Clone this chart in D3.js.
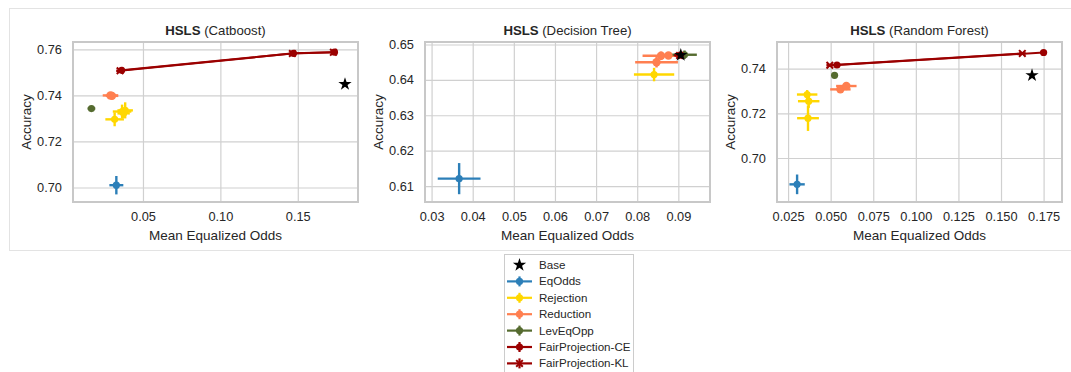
<!DOCTYPE html>
<html>
<head>
<meta charset="utf-8">
<script src="https://cdn.jsdelivr.net/npm/d3@7"></script>
<style>
  body { margin: 0; background: #fff; }
  svg { font-family: "Liberation Sans", Arial, Helvetica, sans-serif; }
</style>
</head>
<body>
<svg width="1071" height="372"></svg>
<script>
// методы и цвета
const methods = ["Base", "EqOdds", "Rejection", "Reduction", "LevEqOpp", "FairProjection-CE", "FairProjection-KL"];
const methodColors = ["#000000", "#2c7fb8", "#ffd700", "#ff7f50", "#556b2f", "#9b0000", "#9b0000"];

// точки: [метод, MEO, accuracy, ошибка по x, ошибка по y]
const catboostPts = [
    ["EqOdds", 0.0328, 0.7010, 0.0045, 0.0040],
    ["Rejection", 0.0317, 0.7296, 0.0060, 0.0030],
    ["Rejection", 0.0365, 0.7330, 0.0060, 0.0030],
    ["Rejection", 0.0385, 0.7335, 0.0050, 0.0035],
    ["Rejection", 0.0375, 0.7322, 0.0040, 0.0020],
    ["Reduction", 0.0290, 0.7400, 0.0050, 0.0010],
    ["Reduction", 0.0300, 0.7398, 0.0040, 0.0008],
    ["LevEqOpp", 0.0167, 0.7343, 0.0025, 0.0008],
    ["FairProjection-CE", 0.0362, 0.7509, 0.0020, 0.0006],
    ["FairProjection-CE", 0.1472, 0.7583, 0.0020, 0.0006],
    ["FairProjection-CE", 0.1737, 0.7588, 0.0020, 0.0006],
    ["FairProjection-KL", 0.0352, 0.7507, 0.0025, 0.0006],
    ["FairProjection-KL", 0.1465, 0.7582, 0.0020, 0.0006],
    ["FairProjection-KL", 0.1730, 0.7587, 0.0020, 0.0006],
    ["Base", 0.1805, 0.7449, 0, 0]
];
const treePts = [
    ["EqOdds", 0.0367, 0.6121, 0.0052, 0.0044],
    ["Rejection", 0.0841, 0.6415, 0.0049, 0.0019],
    ["Reduction", 0.0847, 0.6450, 0.0052, 0.0015],
    ["Reduction", 0.0858, 0.6468, 0.0045, 0.0012],
    ["Reduction", 0.0876, 0.6469, 0.0020, 0.0008],
    ["LevEqOpp", 0.0915, 0.6471, 0.0030, 0.0012],
    ["FairProjection-CE", 0.0905, 0.6470, 0.0015, 0.0008],
    ["FairProjection-KL", 0.0903, 0.6469, 0.0012, 0.0006],
    ["Base", 0.0906, 0.6470, 0, 0]
];
const forestPts = [
    ["EqOdds", 0.0303, 0.6882, 0.0045, 0.0044],
    ["Rejection", 0.0362, 0.7284, 0.0060, 0.0020],
    ["Rejection", 0.0371, 0.7254, 0.0063, 0.0030],
    ["Rejection", 0.0367, 0.7178, 0.0064, 0.0057],
    ["Reduction", 0.0557, 0.7307, 0.0060, 0.0012],
    ["Reduction", 0.0592, 0.7322, 0.0060, 0.0014],
    ["LevEqOpp", 0.0523, 0.7370, 0.0015, 0.0008],
    ["FairProjection-CE", 0.0537, 0.7416, 0.0020, 0.0005],
    ["FairProjection-CE", 0.1750, 0.7472, 0.0020, 0.0005],
    ["FairProjection-KL", 0.0495, 0.7415, 0.0020, 0.0005],
    ["FairProjection-KL", 0.1625, 0.7468, 0.0020, 0.0005],
    ["Base", 0.1682, 0.7370, 0, 0]
];

// деления осей
const catboostXTicks = [0.05, 0.10, 0.15];
const catboostYTicks = [0.70, 0.72, 0.74, 0.76];
const treeXTicks = [0.03, 0.04, 0.05, 0.06, 0.07, 0.08, 0.09];
const treeYTicks = [0.61, 0.62, 0.63, 0.64, 0.65];
const forestXTicks = [0.025, 0.050, 0.075, 0.100, 0.125, 0.150, 0.175];
const forestYTicks = [0.70, 0.72, 0.74];

const panels = [
    {model: "Catboost", pts: catboostPts, left: 73, xDom: [0.0048, 0.1889], yDom: [0.6937, 0.7632],
     xTicks: catboostXTicks, yTicks: catboostYTicks, xFmt: ".2f"},
    {model: "Decision Tree", pts: treePts, left: 425, xDom: [0.0284, 0.0977], yDom: [0.6055, 0.6507],
     xTicks: treeXTicks, yTicks: treeYTicks, xFmt: ".2f"},
    {model: "Random Forest", pts: forestPts, left: 777, xDom: [0.0185, 0.1858], yDom: [0.6803, 0.7519],
     xTicks: forestXTicks, yTicks: forestYTicks, xFmt: ".3f"}
];

const color = d3.scaleOrdinal().domain(methods).range(methodColors);
const svg = d3.select("svg");

// рамка всей фигуры
svg.append("rect")
    .attr("x", 9.5).attr("y", 8.5).attr("width", 1080).attr("height", 242)
    .attr("fill", "#fff").attr("stroke", "#e3e3e3");

const plotW = 285, plotTop = 42, plotH = 160;

function drawPanel(p) {
    const g = svg.append("g").attr("transform", `translate(${p.left}, ${plotTop})`);
    const x = d3.scaleLinear().domain(p.xDom).range([0, plotW]);
    const y = d3.scaleLinear().domain(p.yDom).range([plotH, 0]);

    // сетка
    g.append("g").attr("transform", `translate(0, ${plotH})`)
        .call(d3.axisBottom(x).tickValues(p.xTicks).tickSize(-plotH).tickFormat(d3.format(p.xFmt)).tickPadding(10))
        .call(a => a.select(".domain").remove())
        .call(a => a.selectAll("line").attr("stroke", "#d0d0d0").attr("stroke-width", 1.2))
        .call(a => a.selectAll("text").attr("fill", "#262626").style("font-size", "12.8px"));
    g.append("g")
        .call(d3.axisLeft(y).tickValues(p.yTicks).tickSize(-plotW).tickFormat(d3.format(".2f")).tickPadding(11))
        .call(a => a.select(".domain").remove())
        .call(a => a.selectAll("line").attr("stroke", "#d0d0d0").attr("stroke-width", 1.2))
        .call(a => a.selectAll("text").attr("fill", "#262626").style("font-size", "12.8px"));

    g.append("rect").attr("width", plotW).attr("height", plotH)
        .attr("fill", "none").attr("stroke", "#c8c8c8").attr("stroke-width", 2);

    // линии FairProjection
    ["FairProjection-CE", "FairProjection-KL"].forEach(m => {
        const pts = p.pts.filter(d => d[0] === m).sort((a, b) => a[1] - b[1]);
        g.append("path")
            .datum(pts)
            .attr("d", d3.line().x(d => x(d[1])).y(d => y(d[2])))
            .attr("fill", "none").attr("stroke", color(m)).attr("stroke-width", 2);
    });

    const bars = p.pts.filter(d => d[0] !== "Base");
    // горизонтальные и вертикальные ошибки
    g.selectAll(".ex").data(bars).enter().append("line")
        .attr("x1", d => x(d[1] - d[3])).attr("x2", d => x(d[1] + d[3]))
        .attr("y1", d => y(d[2])).attr("y2", d => y(d[2]))
        .attr("stroke", d => color(d[0])).attr("stroke-width", 2.4);
    g.selectAll(".ey").data(bars).enter().append("line")
        .attr("x1", d => x(d[1])).attr("x2", d => x(d[1]))
        .attr("y1", d => y(d[2] - d[4])).attr("y2", d => y(d[2] + d[4]))
        .attr("stroke", d => color(d[0])).attr("stroke-width", 2.4);

    // маркеры
    g.selectAll(".dot").data(bars.filter(d => d[0] !== "FairProjection-KL")).enter().append("circle")
        .attr("cx", d => x(d[1])).attr("cy", d => y(d[2]))
        .attr("r", d => d[0] === "Reduction" ? 4.2 : 3.6)
        .attr("fill", d => color(d[0]));
    g.selectAll(".kl").data(bars.filter(d => d[0] === "FairProjection-KL")).enter().append("path")
        .attr("d", d3.symbol(d3.symbolX, 30))
        .attr("transform", d => `translate(${x(d[1])}, ${y(d[2])})`)
        .attr("stroke", d => color(d[0])).attr("stroke-width", 2).attr("fill", "none");
    g.selectAll(".star").data(p.pts.filter(d => d[0] === "Base")).enter().append("path")
        .attr("d", d3.symbol(d3.symbolStar, 55))
        .attr("transform", d => `translate(${x(d[1])}, ${y(d[2])})`)
        .attr("fill", "#000");

    // подписи
    const title = g.append("text").attr("x", plotW / 2).attr("y", -7)
        .attr("text-anchor", "middle").style("font-size", "13.2px").attr("fill", "#262626");
    title.append("tspan").attr("font-weight", "bold").text("HSLS");
    title.append("tspan").text(` (${p.model})`);

    g.append("text").attr("x", plotW / 2).attr("y", plotH + 38)
        .attr("text-anchor", "middle").style("font-size", "13.5px").attr("fill", "#262626")
        .text("Mean Equalized Odds");
    g.append("text").attr("transform", `translate(-42, ${plotH / 2}) rotate(-90)`)
        .attr("text-anchor", "middle").style("font-size", "13.5px").attr("fill", "#262626")
        .text("Accuracy");
}

panels.forEach(drawPanel);

// легенда
const lg = svg.append("g").attr("transform", "translate(504, 254)");
lg.append("rect").attr("x", 0.5).attr("y", 0.5).attr("width", 129).attr("height", 130)
    .attr("fill", "#fff").attr("stroke", "#cccccc");
methods.forEach((m, i) => {
    const row = lg.append("g").attr("transform", `translate(0, ${11 + i * 16.4})`);
    if (m === "Base") {
        row.append("path").attr("d", d3.symbol(d3.symbolStar, 55))
            .attr("transform", "translate(15.5, 0)").attr("fill", "#000");
    } else {
        row.append("line").attr("x1", 3).attr("x2", 28).attr("stroke", color(m)).attr("stroke-width", 2.2);
        row.append("line").attr("x1", 15.5).attr("x2", 15.5).attr("y1", -5).attr("y2", 5)
            .attr("stroke", color(m)).attr("stroke-width", 2.2);
        if (m === "FairProjection-KL") {
            row.append("path").attr("d", d3.symbol(d3.symbolX, 30))
                .attr("transform", "translate(15.5, 0)").attr("stroke", color(m)).attr("stroke-width", 2);
        } else {
            row.append("circle").attr("cx", 15.5).attr("r", 3.6).attr("fill", color(m));
        }
    }
    row.append("text").attr("x", 35).attr("dy", "0.35em")
        .style("font-size", "11.6px").attr("fill", "#262626").text(m);
});
</script>
</body>
</html>
